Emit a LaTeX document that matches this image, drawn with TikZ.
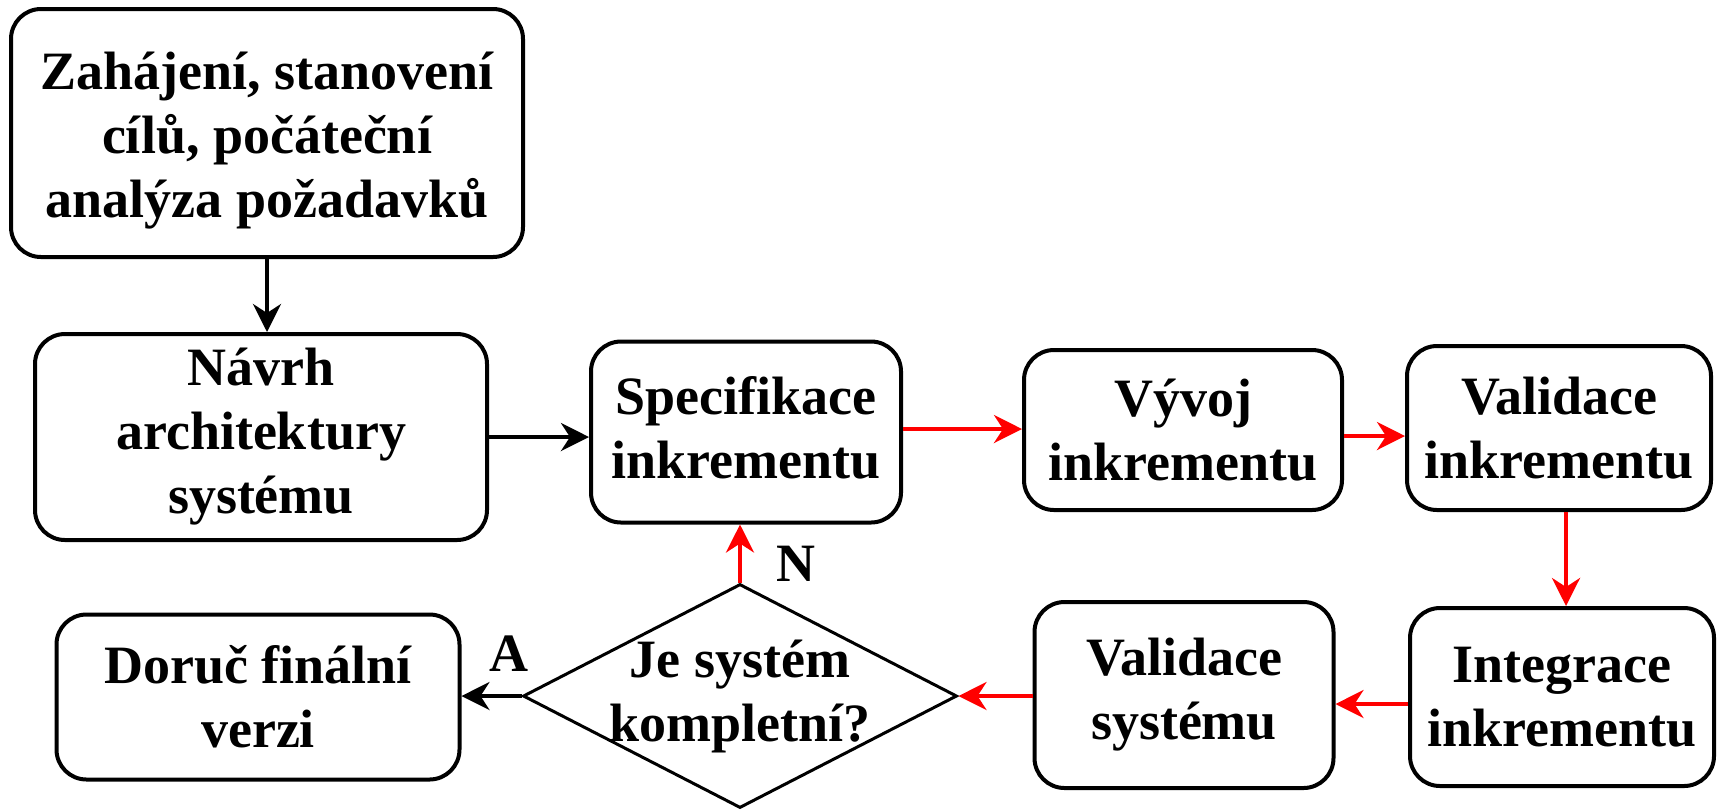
\documentclass[tikz,border=0pt]{standalone}
\usepackage{fontspec}
\setmainfont{Liberation Serif}
\usetikzlibrary{arrows.meta,shapes.geometric}

\begin{document}
\begin{tikzpicture}[x=0.5pt,y=-0.5pt,
  txt/.style={font=\bfseries\fontsize{27}{32}\selectfont, align=center},
  box/.style={txt, draw, line width=2pt, rounded corners=15pt, inner sep=0pt},
  decision/.style={diamond, draw, line width=1.5pt, inner sep=0pt},
  arr/.style={line width=2pt, -{Stealth[length=14pt,width=14pt,inset=4.5pt]}},
  blackarr/.style={arr, black},
  redarr/.style={arr, red}
]
\useasboundingbox (0,0) rectangle (1717,811);

% process boxes
\node[box, minimum width=256pt, minimum height=124pt] (b1) at (267,133) {};
\node[txt] (b1t) at ([yshift=-4pt]b1.center)
  {Zahájení, stanovení\\cílů, počáteční\\analýza požadavků};
\node[box, minimum width=226pt, minimum height=103pt] (b2) at (261,437)
  {Návrh\\architektury\\systému};
\node[box, minimum width=155pt, minimum height=90.5pt] (b3) at (746,432) {};
\node[txt] (b3t) at ([yshift=2pt]b3.center) {Specifikace\\inkrementu};
\node[box, minimum width=159pt, minimum height=80pt] (b4) at (1183,430)
  {Vývoj\\inkrementu};
\node[box, minimum width=152pt, minimum height=82pt] (b5) at (1559,428)
  {Validace\\inkrementu};
\node[box, minimum width=152pt, minimum height=89pt] (b6) at (1562,697)
  {Integrace\\inkrementu};
\node[box, minimum width=149.5pt, minimum height=93pt] (b7) at (1184,695)
  {Validace\\systému};
\node[box, minimum width=201.5pt, minimum height=82.5pt] (b8) at (258,697)
  {Doruč finální\\verzi};

% decision
\node[decision, minimum width=217pt, minimum height=112pt] (d) at (740,696) {};
\node[txt] (dtext) at (d.center) {Je systém\\kompletní?};

% branch labels
\node[txt] (lN) at (796,564) {N};
\node[txt] (lA) at (509,654) {A};

% connectors
\draw[blackarr] (b1.south) -- (b1.south |- b2.north);
\draw[blackarr] (b2.east) -- (b2.east -| b3.west);
\draw[redarr] ([yshift=1.5pt]b3.east) -- ([yshift=1.5pt]b3.east -| b4.west);
\draw[redarr] ([yshift=-3pt]b4.east) -- ([yshift=-3pt]b4.east -| b5.west);
\draw[redarr] ([xshift=3.5pt]b5.south) -- ([xshift=3.5pt]b5.south |- b6.north);
\draw[redarr] ([yshift=-3.5pt]b6.west) -- ([yshift=-3.5pt]b6.west -| b7.east);
\draw[redarr] (b7.west |- d.east) -- (d.east);
\draw[redarr] (d.north) -- (d.north |- b3.south);
\draw[blackarr] (d.west) -- (d.west -| b8.east);
\end{tikzpicture}
\end{document}
